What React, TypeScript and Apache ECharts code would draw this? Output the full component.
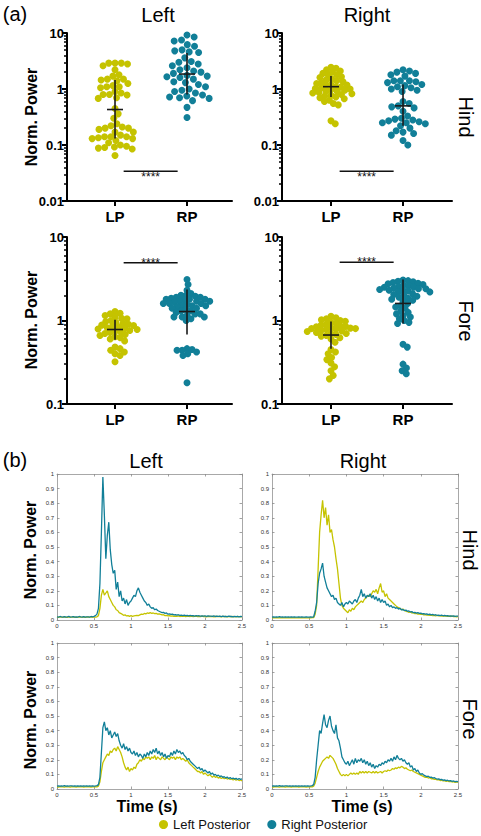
import React, { useEffect, useRef } from 'react';
import * as echarts from 'echarts';

// ---------- categories / ticks ----------
const CATEGORIES = ['LP', 'RP'];
const LOG_TICKS_HIND = [0.01, 0.1, 1, 10];
const LOG_TICKS_FORE = [0.1, 1, 10];
const MINOR_MULT = [2, 3, 4, 5, 6, 7, 8, 9];
const MINOR_DECADES = [0.01, 0.1, 1];
const SIG_LABEL = '****';
const SERIES_NAMES = ['Left Posterior', 'Right Posterior'];
const COLORS = ['#c5c300', '#117f98'];

// ---------- (a) scatter values ----------
const HIND_LEFT_LP = [2.9, 2.9, 2.9, 2.8, 2.6, 2.2, 1.8, 1.7, 1.5, 1.5, 1.45, 1.4, 1.25, 1.15, 1.1, 1.1, 1.05, 0.9, 0.85, 0.8, 0.8, 0.78, 0.7, 0.68,
  0.45, 0.36, 0.3,
  0.24, 0.22, 0.21, 0.2, 0.2, 0.19, 0.17, 0.17, 0.15, 0.14, 0.14, 0.14, 0.135, 0.13, 0.13, 0.12, 0.11, 0.1, 0.095, 0.092, 0.09, 0.088, 0.085, 0.065];
const HIND_LEFT_RP = [9.2, 8.5, 7.5, 7.2, 6.2, 5.8, 5.0, 4.8, 4.6, 4.5, 3.6, 3.1, 3.0, 2.8, 2.6, 2.4, 2.2, 2.1, 2.0, 1.9, 1.75, 1.7, 1.65, 1.6, 1.5,
  1.35, 1.3, 1.2, 1.1, 1.0, 0.95, 0.9, 0.85, 0.78, 0.75, 0.72, 0.7, 0.68, 0.62, 0.47, 0.31];
const HIND_RIGHT_LP = [2.45, 2.35, 2.2, 2.1, 2.0, 1.9, 1.8, 1.75, 1.65, 1.6, 1.5, 1.45, 1.4, 1.35, 1.3, 1.25, 1.2, 1.18, 1.15, 1.1, 1.08, 1.05,
  1.02, 1.0, 0.97, 0.95, 0.92, 0.9, 0.87, 0.85, 0.82, 0.8, 0.77, 0.75, 0.72, 0.7, 0.67, 0.63, 0.6, 0.55, 0.52, 0.27, 0.24];
const HIND_RIGHT_RP = [2.2, 2.1, 2.0, 1.9, 1.8, 1.7, 1.4, 1.4, 1.4, 1.35, 1.3, 1.2, 1.15, 1.1, 1.05, 1.0, 0.95, 0.9, 0.6, 0.55, 0.5, 0.48, 0.46, 0.4,
  0.33, 0.3, 0.29, 0.28, 0.27, 0.26, 0.25, 0.25, 0.24, 0.22, 0.2, 0.18, 0.17, 0.16, 0.15, 0.12, 0.1];
const FORE_LEFT_LP = [1.28, 1.22, 1.2, 1.15, 1.1, 1.06, 1.05, 1.0, 0.97, 0.95, 0.92, 0.9, 0.88, 0.87, 0.85, 0.84, 0.82, 0.8, 0.79, 0.78, 0.76,
  0.75, 0.73, 0.72, 0.7, 0.68, 0.66, 0.64, 0.62, 0.6, 0.57, 0.48, 0.46, 0.44, 0.42, 0.4, 0.38, 0.32];
const FORE_LEFT_RP = [3.1, 2.7, 2.3, 2.1, 2.0, 2.0, 1.95, 1.9, 1.9, 1.85, 1.8, 1.8, 1.8, 1.75, 1.7, 1.7, 1.7, 1.65, 1.6, 1.6, 1.6, 1.55, 1.5, 1.5,
  1.5, 1.45, 1.4, 1.4, 1.35, 1.3, 1.3, 1.25, 1.2, 1.2, 1.15, 1.1, 1.1, 1.1, 1.05, 1.0, 0.46, 0.45, 0.44, 0.44, 0.42, 0.4, 0.38, 0.18];
const FORE_RIGHT_LP = [1.12, 1.08, 1.05, 1.02, 1.0, 0.98, 0.95, 0.92, 0.9, 0.88, 0.86, 0.85, 0.84, 0.82, 0.81, 0.8, 0.8, 0.79, 0.78, 0.76, 0.75,
  0.74, 0.72, 0.7, 0.7, 0.68, 0.66, 0.65, 0.62, 0.6, 0.55, 0.45, 0.42, 0.4, 0.36, 0.34, 0.31, 0.28, 0.25, 0.22, 0.2];
const FORE_RIGHT_RP = [3.05, 3.0, 2.95, 2.9, 2.85, 2.8, 2.75, 2.7, 2.65, 2.6, 2.55, 2.5, 2.5, 2.45, 2.4, 2.4, 2.35, 2.3, 2.3, 2.25, 2.2, 2.2, 2.1,
  2.05, 2.0, 1.95, 1.9, 1.85, 1.8, 1.75, 1.7, 1.6, 1.5, 1.45, 1.4, 1.3, 1.25, 1.2, 1.15, 1.1, 1.05, 1.0, 0.95, 0.92, 0.52, 0.48, 0.3, 0.27, 0.25, 0.23];

// [geometric mean, lower, upper] for LP then RP
const HIND_LEFT_STATS = [[0.43, 0.13, 1.45], [1.85, 0.8, 4.4]];
const HIND_RIGHT_STATS = [[1.1, 0.72, 1.7], [0.5, 0.22, 1.2]];
const FORE_LEFT_STATS = [[0.78, 0.59, 1.02], [1.28, 0.68, 2.35]];
const FORE_RIGHT_STATS = [[0.67, 0.46, 0.97], [1.6, 0.92, 3.1]];

// significance bars: x span (category units) and level
const SIG_X = [0.12, 0.87];
const SIG_Y = [0.034, 0.034, 4.9, 5.0];

// ---------- (b) traces, sampled every 0.02 s from 0 to 2.5 s ----------
const TIME_STEP = 0.02;
const TIME_COUNT = 126;

const TRACE_HIND_LEFT_LP = [
  0.020, 0.018, 0.022, 0.020, 0.019, 0.021, 0.020, 0.018, 0.022, 0.020,
  0.019, 0.021, 0.020, 0.018, 0.020, 0.022, 0.019, 0.020, 0.021, 0.018,
  0.020, 0.022, 0.019, 0.020, 0.021, 0.020, 0.019, 0.022, 0.030, 0.080,
  0.170, 0.210, 0.170, 0.185, 0.200, 0.160, 0.140, 0.120, 0.100, 0.090,
  0.070, 0.065, 0.050, 0.045, 0.040, 0.032, 0.035, 0.028, 0.030, 0.025,
  0.030, 0.025, 0.028, 0.030, 0.032, 0.030, 0.035, 0.040, 0.038, 0.045,
  0.042, 0.048, 0.045, 0.050, 0.046, 0.048, 0.044, 0.046, 0.040, 0.042,
  0.038, 0.035, 0.036, 0.030, 0.032, 0.028, 0.030, 0.026, 0.028, 0.024,
  0.027, 0.025, 0.028, 0.024, 0.026, 0.025, 0.027, 0.023, 0.026, 0.025,
  0.024, 0.027, 0.023, 0.025, 0.026, 0.024, 0.025, 0.023, 0.026, 0.024,
  0.025, 0.022, 0.025, 0.024, 0.023, 0.025, 0.022, 0.024, 0.025, 0.023,
  0.024, 0.022, 0.025, 0.023, 0.024, 0.022, 0.023, 0.025, 0.022, 0.024,
  0.023, 0.022, 0.024, 0.023, 0.022, 0.024];
const TRACE_HIND_LEFT_RP = [
  0.022, 0.020, 0.024, 0.021, 0.019, 0.023, 0.020, 0.022, 0.025, 0.020,
  0.021, 0.023, 0.019, 0.022, 0.020, 0.024, 0.021, 0.020, 0.023, 0.019,
  0.022, 0.021, 0.020, 0.024, 0.022, 0.025, 0.030, 0.040, 0.080, 0.250,
  0.600, 0.980, 0.720, 0.420, 0.580, 0.670, 0.480, 0.380, 0.320, 0.340,
  0.210, 0.260, 0.160, 0.200, 0.130, 0.150, 0.110, 0.140, 0.100, 0.120,
  0.130, 0.150, 0.170, 0.160, 0.200, 0.220, 0.190, 0.170, 0.150, 0.130,
  0.120, 0.100, 0.110, 0.090, 0.080, 0.085, 0.070, 0.075, 0.065, 0.060,
  0.055, 0.050, 0.052, 0.045, 0.048, 0.040, 0.042, 0.038, 0.040, 0.035,
  0.037, 0.033, 0.036, 0.032, 0.034, 0.030, 0.033, 0.030, 0.032, 0.028,
  0.031, 0.029, 0.030, 0.027, 0.030, 0.028, 0.029, 0.026, 0.028, 0.027,
  0.029, 0.025, 0.028, 0.026, 0.027, 0.025, 0.028, 0.024, 0.026, 0.025,
  0.027, 0.023, 0.026, 0.024, 0.025, 0.023, 0.026, 0.024, 0.025, 0.022,
  0.025, 0.023, 0.024, 0.022, 0.025, 0.023];
const TRACE_HIND_RIGHT_LP = [
  0.015, 0.017, 0.014, 0.016, 0.015, 0.017, 0.014, 0.016, 0.015, 0.016,
  0.014, 0.016, 0.015, 0.017, 0.014, 0.016, 0.015, 0.014, 0.016, 0.015,
  0.017, 0.014, 0.016, 0.015, 0.014, 0.016, 0.015, 0.017, 0.016, 0.040,
  0.100, 0.350, 0.600, 0.720, 0.820, 0.700, 0.770, 0.650, 0.720, 0.600,
  0.620, 0.550, 0.500, 0.420, 0.350, 0.250, 0.150, 0.100, 0.080, 0.070,
  0.060, 0.050, 0.070, 0.060, 0.080, 0.070, 0.090, 0.100, 0.110, 0.120,
  0.130, 0.120, 0.140, 0.150, 0.160, 0.170, 0.160, 0.180, 0.200, 0.190,
  0.210, 0.180, 0.220, 0.250, 0.190, 0.200, 0.160, 0.180, 0.150, 0.140,
  0.130, 0.120, 0.110, 0.100, 0.090, 0.085, 0.080, 0.070, 0.075, 0.065,
  0.060, 0.058, 0.052, 0.055, 0.048, 0.050, 0.044, 0.046, 0.040, 0.042,
  0.038, 0.040, 0.035, 0.037, 0.033, 0.035, 0.031, 0.034, 0.030, 0.032,
  0.029, 0.031, 0.028, 0.030, 0.027, 0.029, 0.026, 0.028, 0.025, 0.027,
  0.024, 0.026, 0.023, 0.025, 0.022, 0.024];
const TRACE_HIND_RIGHT_RP = [
  0.020, 0.022, 0.019, 0.021, 0.020, 0.023, 0.019, 0.021, 0.020, 0.022,
  0.019, 0.021, 0.020, 0.022, 0.019, 0.021, 0.020, 0.019, 0.022, 0.020,
  0.021, 0.019, 0.020, 0.022, 0.020, 0.019, 0.021, 0.020, 0.022, 0.060,
  0.120, 0.250, 0.320, 0.350, 0.390, 0.300, 0.260, 0.220, 0.200, 0.180,
  0.160, 0.170, 0.140, 0.150, 0.120, 0.110, 0.100, 0.120, 0.090, 0.110,
  0.120, 0.110, 0.130, 0.120, 0.110, 0.130, 0.140, 0.120, 0.150, 0.170,
  0.210, 0.160, 0.180, 0.150, 0.170, 0.160, 0.180, 0.150, 0.170, 0.140,
  0.160, 0.130, 0.150, 0.120, 0.140, 0.120, 0.130, 0.100, 0.110, 0.090,
  0.100, 0.085, 0.090, 0.080, 0.085, 0.075, 0.080, 0.070, 0.072, 0.065,
  0.068, 0.060, 0.062, 0.055, 0.058, 0.050, 0.053, 0.047, 0.050, 0.045,
  0.047, 0.042, 0.044, 0.040, 0.042, 0.037, 0.040, 0.035, 0.038, 0.034,
  0.036, 0.032, 0.034, 0.030, 0.033, 0.029, 0.031, 0.028, 0.030, 0.027,
  0.029, 0.026, 0.028, 0.025, 0.027, 0.026];
const TRACE_FORE_LEFT_LP = [
  0.015, 0.013, 0.016, 0.014, 0.015, 0.013, 0.016, 0.014, 0.015, 0.013,
  0.016, 0.014, 0.015, 0.013, 0.016, 0.015, 0.014, 0.016, 0.013, 0.015,
  0.014, 0.016, 0.015, 0.013, 0.015, 0.014, 0.016, 0.015, 0.020, 0.050,
  0.120, 0.180, 0.200, 0.220, 0.240, 0.230, 0.260, 0.250, 0.270, 0.280,
  0.260, 0.290, 0.270, 0.250, 0.220, 0.180, 0.150, 0.130, 0.150, 0.120,
  0.140, 0.130, 0.150, 0.140, 0.170, 0.180, 0.200, 0.190, 0.210, 0.200,
  0.220, 0.210, 0.220, 0.200, 0.220, 0.210, 0.230, 0.200, 0.220, 0.210,
  0.200, 0.220, 0.210, 0.200, 0.220, 0.210, 0.200, 0.220, 0.210, 0.220,
  0.200, 0.220, 0.210, 0.220, 0.200, 0.210, 0.200, 0.190, 0.200, 0.180,
  0.170, 0.160, 0.150, 0.140, 0.130, 0.120, 0.120, 0.110, 0.120, 0.100,
  0.110, 0.100, 0.090, 0.100, 0.090, 0.080, 0.090, 0.080, 0.085, 0.075,
  0.080, 0.072, 0.078, 0.070, 0.075, 0.068, 0.072, 0.065, 0.070, 0.062,
  0.068, 0.060, 0.065, 0.058, 0.062, 0.056];
const TRACE_FORE_LEFT_RP = [
  0.020, 0.022, 0.019, 0.021, 0.020, 0.023, 0.019, 0.021, 0.020, 0.022,
  0.021, 0.019, 0.022, 0.020, 0.021, 0.019, 0.022, 0.020, 0.021, 0.019,
  0.022, 0.020, 0.021, 0.019, 0.022, 0.020, 0.021, 0.023, 0.030, 0.080,
  0.250, 0.420, 0.460, 0.400, 0.420, 0.370, 0.400, 0.350, 0.370, 0.390,
  0.360, 0.380, 0.330, 0.300, 0.280, 0.310, 0.270, 0.290, 0.260, 0.280,
  0.250, 0.240, 0.260, 0.230, 0.250, 0.220, 0.240, 0.230, 0.210, 0.240,
  0.220, 0.250, 0.230, 0.260, 0.240, 0.270, 0.250, 0.280, 0.240, 0.260,
  0.230, 0.250, 0.220, 0.240, 0.210, 0.230, 0.220, 0.250, 0.230, 0.260,
  0.240, 0.270, 0.250, 0.260, 0.240, 0.250, 0.230, 0.220, 0.200, 0.210,
  0.190, 0.180, 0.170, 0.160, 0.150, 0.140, 0.150, 0.130, 0.140, 0.120,
  0.130, 0.120, 0.110, 0.120, 0.100, 0.110, 0.095, 0.100, 0.090, 0.095,
  0.085, 0.090, 0.080, 0.085, 0.075, 0.082, 0.072, 0.078, 0.070, 0.075,
  0.068, 0.074, 0.065, 0.072, 0.066, 0.070];
const TRACE_FORE_RIGHT_LP = [
  0.015, 0.013, 0.016, 0.014, 0.015, 0.013, 0.016, 0.014, 0.015, 0.013,
  0.016, 0.014, 0.015, 0.013, 0.016, 0.015, 0.014, 0.016, 0.013, 0.015,
  0.014, 0.016, 0.015, 0.013, 0.015, 0.014, 0.016, 0.015, 0.020, 0.040,
  0.080, 0.120, 0.150, 0.170, 0.190, 0.200, 0.210, 0.220, 0.210, 0.230,
  0.220, 0.210, 0.190, 0.170, 0.140, 0.120, 0.100, 0.090, 0.100, 0.090,
  0.100, 0.090, 0.100, 0.110, 0.100, 0.110, 0.100, 0.110, 0.100, 0.120,
  0.110, 0.120, 0.110, 0.120, 0.110, 0.120, 0.115, 0.110, 0.120, 0.110,
  0.120, 0.110, 0.115, 0.120, 0.110, 0.120, 0.125, 0.120, 0.130, 0.125,
  0.130, 0.140, 0.135, 0.145, 0.140, 0.150, 0.145, 0.155, 0.150, 0.140,
  0.145, 0.135, 0.130, 0.125, 0.130, 0.120, 0.115, 0.110, 0.105, 0.100,
  0.095, 0.090, 0.085, 0.080, 0.082, 0.075, 0.078, 0.070, 0.072, 0.066,
  0.068, 0.062, 0.065, 0.058, 0.060, 0.055, 0.058, 0.052, 0.055, 0.050,
  0.052, 0.048, 0.050, 0.046, 0.048, 0.045];
const TRACE_FORE_RIGHT_RP = [
  0.020, 0.022, 0.019, 0.021, 0.020, 0.023, 0.019, 0.021, 0.020, 0.022,
  0.021, 0.019, 0.022, 0.020, 0.021, 0.019, 0.022, 0.020, 0.021, 0.019,
  0.022, 0.020, 0.021, 0.019, 0.022, 0.020, 0.021, 0.023, 0.030, 0.080,
  0.200, 0.300, 0.400, 0.380, 0.450, 0.510, 0.440, 0.420, 0.470, 0.500,
  0.430, 0.400, 0.380, 0.440, 0.350, 0.330, 0.280, 0.220, 0.200, 0.180,
  0.170, 0.190, 0.160, 0.180, 0.200, 0.170, 0.210, 0.180, 0.200, 0.190,
  0.210, 0.180, 0.200, 0.170, 0.190, 0.160, 0.180, 0.150, 0.170, 0.140,
  0.160, 0.150, 0.170, 0.160, 0.180, 0.170, 0.190, 0.180, 0.200, 0.190,
  0.210, 0.190, 0.220, 0.200, 0.230, 0.210, 0.200, 0.210, 0.190, 0.200,
  0.180, 0.170, 0.180, 0.150, 0.160, 0.130, 0.140, 0.120, 0.130, 0.110,
  0.100, 0.105, 0.095, 0.090, 0.085, 0.088, 0.080, 0.082, 0.075, 0.078,
  0.072, 0.068, 0.070, 0.064, 0.066, 0.060, 0.062, 0.058, 0.060, 0.055,
  0.057, 0.052, 0.055, 0.050, 0.053, 0.050];

// ---------- layout ----------
const FONT = '"Liberation Sans", Arial, Helvetica, sans-serif';
const SCATTER_GRIDS = [
  { left: 67, top: 33, width: 165, height: 168, xmin: -0.667, xmax: 1.625 },
  { left: 282, top: 33, width: 170, height: 168, xmin: -0.68, xmax: 1.68 },
  { left: 67, top: 237, width: 165, height: 167, xmin: -0.667, xmax: 1.625 },
  { left: 282, top: 237, width: 170, height: 167, xmin: -0.68, xmax: 1.68 },
];
const LINE_GRIDS = [
  { left: 57, top: 474, width: 185, height: 146 },
  { left: 272, top: 474, width: 186, height: 146 },
  { left: 57, top: 643, width: 185, height: 146 },
  { left: 272, top: 643, width: 186, height: 146 },
];
const SWARM_HALF_WIDTH = 24;
const SWARM_MIN_SPACING = 5.0;

const SCATTER_PANELS = [
  { lp: HIND_LEFT_LP, rp: HIND_LEFT_RP, stats: HIND_LEFT_STATS, ticks: LOG_TICKS_HIND, sigOff: 6 },
  { lp: HIND_RIGHT_LP, rp: HIND_RIGHT_RP, stats: HIND_RIGHT_STATS, ticks: LOG_TICKS_HIND, sigOff: 6 },
  { lp: FORE_LEFT_LP, rp: FORE_LEFT_RP, stats: FORE_LEFT_STATS, ticks: LOG_TICKS_FORE, sigOff: 0 },
  { lp: FORE_RIGHT_LP, rp: FORE_RIGHT_RP, stats: FORE_RIGHT_STATS, ticks: LOG_TICKS_FORE, sigOff: 0 },
];
const LINE_PANELS = [
  [TRACE_HIND_LEFT_LP, TRACE_HIND_LEFT_RP],
  [TRACE_HIND_RIGHT_LP, TRACE_HIND_RIGHT_RP],
  [TRACE_FORE_LEFT_LP, TRACE_FORE_LEFT_RP],
  [TRACE_FORE_RIGHT_LP, TRACE_FORE_RIGHT_RP],
];

// beeswarm layout in pixel space; shrinks the spacing until the swarm fits the allowed width
function swarmOffsets(values: number[], decadePx: number, diam: number) {
  const placed: { x: number; y: number }[] = [];
  for (const v of values) {
    const y = Math.log10(v) * decadePx;
    const cands = [0];
    for (const p of placed) {
      const dy = Math.abs(p.y - y);
      if (dy < diam) {
        const dx = Math.sqrt(diam * diam - dy * dy);
        cands.push(p.x + dx, p.x - dx);
      }
    }
    cands.sort((a, b) => Math.abs(a) - Math.abs(b));
    let best = 0;
    for (const c of cands) {
      if (placed.every((p) => (p.x - c) ** 2 + (p.y - y) ** 2 >= diam * diam - 0.01)) {
        best = c;
        break;
      }
    }
    placed.push({ x: best, y });
  }
  return placed.map((p) => p.x);
}
function swarm(values: number[], center: number, decadePx: number, unitPx: number) {
  const sorted = [...values].sort((a, b) => b - a);
  let diam = 7.4;
  let xs = swarmOffsets(sorted, decadePx, diam);
  while (Math.max(...xs.map(Math.abs)) > SWARM_HALF_WIDTH && diam * 0.96 >= SWARM_MIN_SPACING) {
    diam *= 0.96;
    xs = swarmOffsets(sorted, decadePx, diam);
  }
  return sorted.map((v, i) => [center + xs[i] / unitPx, v]);
}

const fmtLog = (v: number) => (v >= 1 ? String(Math.round(v)) : String(Number(v.toPrecision(1))));
const fmtLin = (step: number) => (v: number) => {
  const r = Math.round(v / step) * step;
  return String(r === 0 ? 0 : Number(r.toFixed(1)));
};

function txt(text: string, x: number, y: number, font: string, rotation = 0) {
  return {
    type: 'text',
    x,
    y,
    rotation,
    z: 100,
    silent: true,
    style: { text, font, fill: '#000', textAlign: 'center', textVerticalAlign: 'middle' },
  };
}

function buildOption() {
  const grids: any[] = [];
  const xAxes: any[] = [];
  const yAxes: any[] = [];
  const series: any[] = [];

  const minorTicks = MINOR_DECADES.flatMap((d) => MINOR_MULT.map((k) => Number((k * d).toPrecision(2))));

  [...SCATTER_GRIDS, ...LINE_GRIDS].forEach((g) => {
    grids.push({ left: g.left, top: g.top, width: g.width, height: g.height, containLabel: false, outerBoundsMode: 'none' });
  });

  // scatter x axes (0-3)
  SCATTER_GRIDS.forEach((g, p) => {
    xAxes.push({
      type: 'value', gridIndex: p, min: g.xmin, max: g.xmax, position: 'bottom',
      axisLine: { show: true, onZero: false, lineStyle: { color: '#000', width: 2 } },
      axisTick: { show: true, length: 5, lineStyle: { color: '#000', width: 2 }, customValues: [0, 1] },
      axisLabel: {
        show: true, customValues: [0, 1], formatter: (v: number) => CATEGORIES[Math.round(v)] ?? '',
        fontSize: 15, fontWeight: 'bold', color: '#000', margin: 8, fontFamily: FONT,
      },
      splitLine: { show: false },
    });
  });
  // line x axes bottom (4-7) and top (8-11)
  ['bottom', 'top'].forEach((pos) => {
    LINE_GRIDS.forEach((g, p) => {
      xAxes.push({
        type: 'value', gridIndex: 4 + p, min: 0, max: 2.5, interval: 0.5, position: pos,
        axisLine: { show: true, onZero: false, lineStyle: { color: '#a8a8a8', width: 1 } },
        axisTick: { show: true, inside: true, length: 2.5, lineStyle: { color: '#8a8a8a', width: 0.8 } },
        axisLabel: { show: pos === 'bottom', fontSize: 6, color: '#333', margin: 3, fontFamily: FONT, formatter: fmtLin(0.5) },
        splitLine: { show: false },
      });
    });
  });

  // scatter log y axes major (0-3) and minor (4-7)
  SCATTER_PANELS.forEach((sp, p) => {
    yAxes.push({
      type: 'log', logBase: 10, gridIndex: p, min: sp.ticks[0], max: 10, position: 'left',
      axisLine: { show: true, onZero: false, lineStyle: { color: '#000', width: 2 } },
      axisTick: { show: true, length: 5, lineStyle: { color: '#000', width: 2 }, customValues: sp.ticks },
      axisLabel: {
        show: true, customValues: sp.ticks, formatter: fmtLog, fontSize: 13, fontWeight: 'bold',
        color: '#000', margin: 3, fontFamily: FONT,
      },
      splitLine: { show: false },
      minorTick: { show: false },
    });
  });
  SCATTER_PANELS.forEach((sp, p) => {
    yAxes.push({
      type: 'log', logBase: 10, gridIndex: p, min: sp.ticks[0], max: 10, position: 'left',
      axisLine: { show: false, onZero: false },
      axisTick: { show: true, length: 3, lineStyle: { color: '#000', width: 1.5 }, customValues: minorTicks.filter((t) => t > sp.ticks[0]) },
      axisLabel: { show: false },
      splitLine: { show: false },
    });
  });
  // line y axes left (8-11) and right (12-15)
  ['left', 'right'].forEach((pos) => {
    LINE_GRIDS.forEach((g, p) => {
      yAxes.push({
        type: 'value', gridIndex: 4 + p, min: 0, max: 1, interval: 0.1, position: pos,
        axisLine: { show: true, onZero: false, lineStyle: { color: '#a8a8a8', width: 1 } },
        axisTick: { show: true, inside: true, length: 2.5, lineStyle: { color: '#8a8a8a', width: 0.8 } },
        axisLabel: { show: pos === 'left', fontSize: 6, color: '#333', margin: 3, fontFamily: FONT, formatter: fmtLin(0.1) },
        splitLine: { show: false },
      });
    });
  });

  // scatter series
  SCATTER_PANELS.forEach((sp, p) => {
    const g = SCATTER_GRIDS[p];
    const decadePx = g.height / Math.log10(10 / sp.ticks[0]);
    const unitPx = g.width / (g.xmax - g.xmin);
    [sp.lp, sp.rp].forEach((vals, k) => {
      series.push({
        type: 'scatter', name: SERIES_NAMES[k], xAxisIndex: p, yAxisIndex: p,
        data: swarm(vals, k, decadePx, unitPx),
        symbol: 'circle', symbolSize: 7, itemStyle: { color: COLORS[k], opacity: 1 }, silent: true, z: 2,
      });
    });
    series.push({
      type: 'custom', xAxisIndex: p, yAxisIndex: p, z: 5, silent: true,
      data: sp.stats.map((s, k) => [k, s[0], s[1], s[2]]),
      encode: { x: 0, y: [1, 2, 3] },
      renderItem: (params: any, api: any) => {
        const x = api.value(0);
        const pm = api.coord([x, api.value(1)]);
        const pl = api.coord([x, api.value(2)]);
        const ph = api.coord([x, api.value(3)]);
        const st = { stroke: '#1a1a1a', lineWidth: 1.6 };
        return {
          type: 'group',
          children: [
            { type: 'line', shape: { x1: pl[0], y1: pl[1], x2: ph[0], y2: ph[1] }, style: st },
            { type: 'line', shape: { x1: pm[0] - 8, y1: pm[1], x2: pm[0] + 8, y2: pm[1] }, style: st },
          ],
        };
      },
    });
    series.push({
      type: 'custom', xAxisIndex: p, yAxisIndex: p, z: 5, silent: true,
      data: [[SIG_X[0], SIG_X[1], SIG_Y[p]]],
      encode: { x: [0, 1], y: 2 },
      renderItem: (params: any, api: any) => {
        const a = api.coord([api.value(0), api.value(2)]);
        const b = api.coord([api.value(1), api.value(2)]);
        return {
          type: 'group',
          children: [
            { type: 'line', shape: { x1: a[0], y1: a[1], x2: b[0], y2: b[1] }, style: { stroke: '#111', lineWidth: 1.5 } },
            {
              type: 'text', x: (a[0] + b[0]) / 2, y: a[1] + sp.sigOff,
              style: { text: SIG_LABEL, fill: '#111', font: `12px ${FONT}`, textAlign: 'center', textVerticalAlign: 'middle' },
            },
          ],
        };
      },
    });
  });

  // line series
  const time = Array.from({ length: TIME_COUNT }, (_, i) => Number((i * TIME_STEP).toFixed(2)));
  LINE_PANELS.forEach((pair, p) => {
    pair.forEach((vals, k) => {
      series.push({
        type: 'line', name: SERIES_NAMES[k], xAxisIndex: 4 + p, yAxisIndex: 8 + p,
        data: time.map((t, i) => [t, vals[i]]),
        showSymbol: false, symbol: 'none', silent: true, z: 3 + k,
        lineStyle: { width: 1.3, color: COLORS[k] }, itemStyle: { color: COLORS[k] },
      });
    });
  });

  const big = `20px ${FONT}`;
  const bold = `bold 16px ${FONT}`;
  const graphic = [
    txt('(a)', 15, 14, big),
    txt('Left', 158, 15, big),
    txt('Right', 367, 15, big),
    txt('Norm. Power', 31, 117, bold, Math.PI / 2),
    txt('Norm. Power', 31, 320, bold, Math.PI / 2),
    txt('Hind', 466, 117, big, -Math.PI / 2),
    txt('Fore', 466, 321, big, -Math.PI / 2),
    txt('(b)', 15, 460, big),
    txt('Left', 146, 461, big),
    txt('Right', 363, 461, big),
    txt('Norm. Power', 30, 550, bold, Math.PI / 2),
    txt('Norm. Power', 30, 720, bold, Math.PI / 2),
    txt('Hind', 470, 550, big, -Math.PI / 2),
    txt('Fore', 470, 719, big, -Math.PI / 2),
    txt('Time (s)', 147, 806, bold),
    txt('Time (s)', 362, 806, bold),
  ];

  return {
    animation: false,
    backgroundColor: '#fff',
    textStyle: { fontFamily: FONT },
    grid: grids,
    xAxis: xAxes,
    yAxis: yAxes,
    series,
    graphic,
    legend: {
      data: SERIES_NAMES,
      left: 154,
      top: 813,
      icon: 'circle',
      itemWidth: 9,
      itemHeight: 9,
      itemGap: 17,
      selectedMode: false,
      textStyle: { fontSize: 13, color: '#111', fontFamily: FONT },
    },
  };
}

export default function App() {
  const ref = useRef<HTMLDivElement>(null);
  useEffect(() => {
    document.body.style.margin = '0';
    const chart = echarts.init(ref.current as HTMLDivElement, null, { renderer: 'svg' });
    chart.setOption(buildOption() as any);
    return () => chart.dispose();
  }, []);
  return <div ref={ref} style={{ width: 481, height: 836 }} />;
}
